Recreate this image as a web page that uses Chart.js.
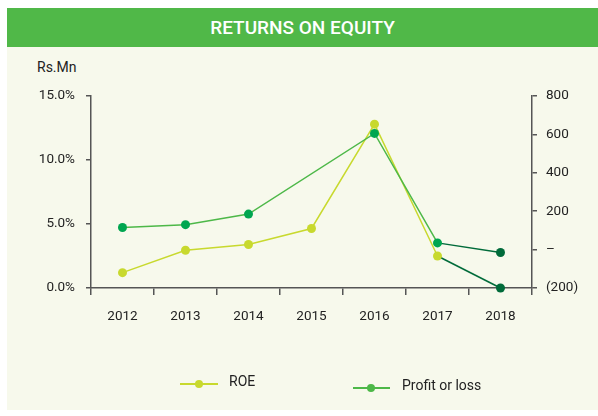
<!DOCTYPE html>
<html>
<head>
<meta charset="utf-8">
<script src="https://cdn.jsdelivr.net/npm/chart.js@4/dist/chart.umd.min.js"></script>
<style>
  body { margin: 0; background: #fff; font-family: Roboto, sans-serif; }
  #wrap { position: relative; width: 598px; height: 416px; overflow: hidden; }
  #banner { position: absolute; left: 7px; top: 8px; width: 591px; height: 39px; background: #50b848;
    color: #fff; font-size: 19px; font-weight: 500; text-align: center; line-height: 39px; }
  #panel { position: absolute; left: 7px; top: 47px; width: 591px; height: 363px; background: #f7f9ec; }
  #unit { position: absolute; left: 37px; top: 59px; font-size: 14px; color: #222; }
  canvas { position: absolute; left: 0; top: 0; }
  .leg { position: absolute; font-size: 14px; color: #222; }
  .leg .ln { position: absolute; top: 0; height: 2px; }
  .leg .dot { position: absolute; width: 8px; height: 8px; border-radius: 50%; top: -3px; }
</style>
</head>
<body>
<div id="wrap">
  <div id="banner">RETURNS ON EQUITY</div>
  <div id="panel"></div>
  <div id="unit">Rs.Mn</div>
  <canvas id="chart" width="598" height="416"></canvas>
  <div class="leg" style="left:180px; top:383px;">
    <div class="ln" style="width:38px; background:#c8d92e;"></div>
    <div class="dot" style="left:15px; background:#c8d92e;"></div>
    <div style="position:absolute; left:49px; top:-10px;">ROE</div>
  </div>
  <div class="leg" style="left:353px; top:387px;">
    <div class="ln" style="width:37px; background:#4db848;"></div>
    <div class="dot" style="left:14px; background:#4db848;"></div>
    <div style="position:absolute; left:49px; top:-10px; white-space:nowrap;">Profit or loss</div>
  </div>
</div>
<script>
const years = ['2012', '2013', '2014', '2015', '2016', '2017', '2018'];
const roe = [1.2, 2.95, 3.4, 4.65, 12.8, 2.5, 0];
const profit = [115, 130, 185, null, 605, 35, -15];
const roeTicks = [0, 5, 10, 15];
const profitTicks = [-200, 0, 200, 400, 600, 800];

const lime = '#c8d92e';
const green = '#4db848';
const greenDot = '#00a650';
const dark = '#006b3a';

// последний отрезок 2017-2018 рисуется тёмным
const lastSeg = c => (ctx => ctx.p0DataIndex === 5 ? dark : c);
const dotColors = (c, n) => years.map((y, i) => i === n - 1 ? dark : c);

const axisColor = '#555';
const tickFont = { family: 'Roboto', size: 13.5 };

new Chart(document.getElementById('chart'), {
  type: 'line',
  data: {
    labels: years,
    datasets: [
      {
        label: 'Profit or loss',
        data: profit,
        yAxisID: 'y1',
        borderColor: green,
        borderWidth: 1.5,
        pointBackgroundColor: dotColors(greenDot, years.length),
        pointBorderWidth: 0,
        pointRadius: 4.5,
        spanGaps: true,
        clip: false,
        order: 0,
        segment: { borderColor: lastSeg(green) }
      },
      {
        label: 'ROE',
        data: roe,
        yAxisID: 'y',
        borderColor: lime,
        borderWidth: 1.5,
        pointBackgroundColor: dotColors(lime, years.length),
        pointBorderWidth: 0,
        pointRadius: 4.5,
        clip: false,
        order: 1,
        segment: { borderColor: lastSeg(lime) }
      }
    ]
  },
  options: {
    responsive: false,
    animation: false,
    layout: { padding: { top: 96, left: 0, right: 0, bottom: 0 } },
    plugins: { legend: { display: false }, tooltip: { enabled: false } },
    scales: {
      x: {
        offset: true,
        grid: { offset: true, drawOnChartArea: false, drawTicks: true, tickLength: 7, color: axisColor, lineWidth: 1.5 },
        border: { color: axisColor, width: 1.5 },
        ticks: { color: '#222', font: tickFont, padding: 14 },
        afterFit: s => { s.height = 416 - 288; }
      },
      y: {
        position: 'left',
        min: 0, max: 15,
        afterBuildTicks: s => { s.ticks = roeTicks.map(v => ({ value: v })); },
        grid: { drawOnChartArea: false, tickLength: 5, color: axisColor, lineWidth: 1.5 },
        border: { color: axisColor, width: 1.5 },
        ticks: { color: '#222', font: tickFont, padding: 11, callback: v => v.toFixed(1) + '%' },
        afterFit: s => { s.width = 91; }
      },
      y1: {
        position: 'right',
        min: -200, max: 800,
        afterBuildTicks: s => { s.ticks = profitTicks.map(v => ({ value: v })); },
        grid: { drawOnChartArea: false, tickLength: 5, color: axisColor, lineWidth: 1.5 },
        border: { color: axisColor, width: 1.5 },
        ticks: {
          color: '#222', font: tickFont, padding: 9,
          callback: v => v === 0 ? '–' : (v < 0 ? '(' + Math.abs(v) + ')' : v)
        },
        afterFit: s => { s.width = 598 - 532; }
      }
    }
  }
});
</script>
</body>
</html>
